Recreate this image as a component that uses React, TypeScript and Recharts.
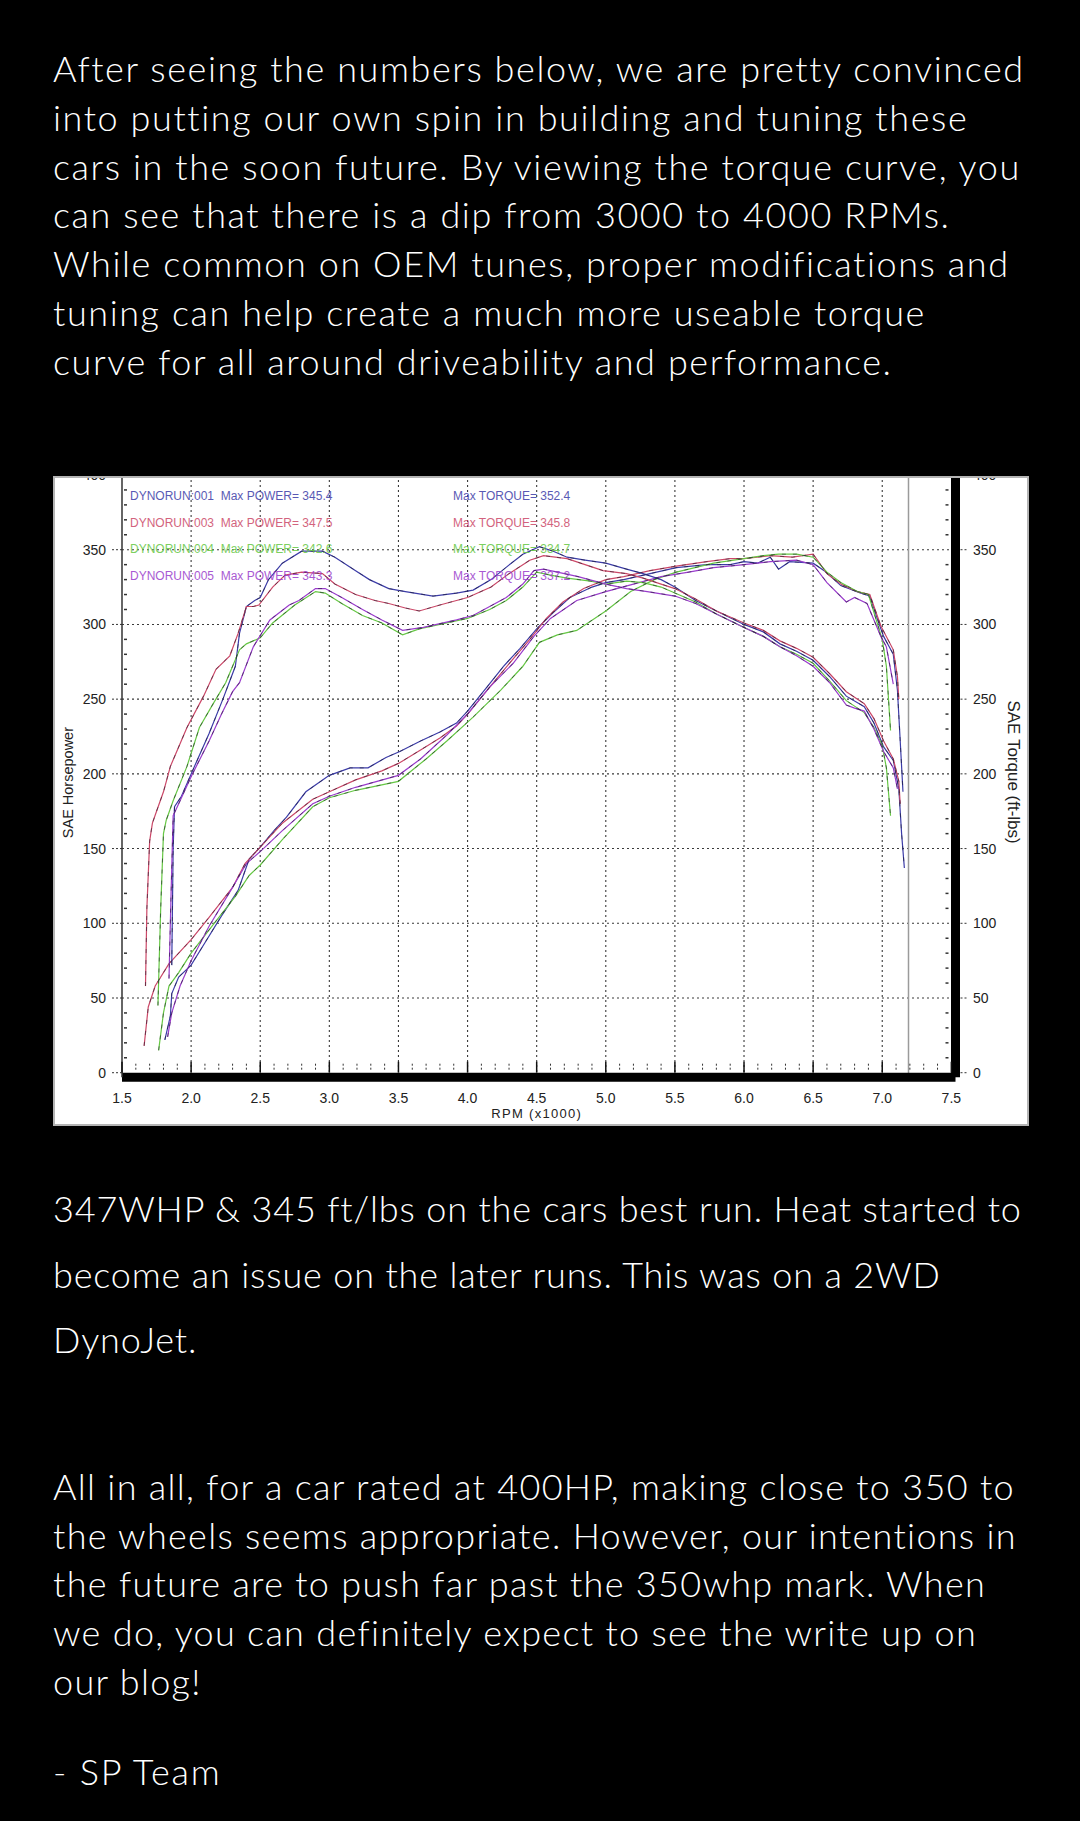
import React from 'react';
import { LineChart, Line, XAxis, YAxis, CartesianGrid, ReferenceLine, Legend } from 'recharts';

// page copy
const INTRO_LINES = [
  'After seeing the numbers below, we are pretty convinced',
  'into putting our own spin in building and tuning these',
  'cars in the soon future. By viewing the torque curve, you',
  'can see that there is a dip from 3000 to 4000 RPMs.',
  'While common on OEM tunes, proper modifications and',
  'tuning can help create a much more useable torque',
  'curve for all around driveability and performance.',
];
const RESULT_LINES = [
  '347WHP & 345 ft/lbs on the cars best run. Heat started to',
  'become an issue on the later runs. This was on a 2WD',
  'DynoJet.',
];
const OUTRO_LINES = [
  'All in all, for a car rated at 400HP, making close to 350 to',
  'the wheels seems appropriate. However, our intentions in',
  'the future are to push far past the 350whp mark. When',
  'we do, you can definitely expect to see the write up on',
  'our blog!',
];
const SIGNATURE = '- SP Team';

// dyno runs
const RUNS = ['DYNORUN:001', 'DYNORUN:003', 'DYNORUN:004', 'DYNORUN:005'];
const MAX_POWER = ['345.4', '347.5', '342.6', '343.3'];
const MAX_TORQUE = ['352.4', '345.8', '334.7', '337.2'];
const RUN_COLORS = ['#3c3ca8', '#cc4868', '#66c844', '#9a3ccc'];

// axes
const X_LABELS = ['1.5', '2.0', '2.5', '3.0', '3.5', '4.0', '4.5', '5.0', '5.5', '6.0', '6.5', '7.0', '7.5'];
const Y_LABELS = [0, 50, 100, 150, 200, 250, 300, 350, 400];
const GRID_X = [2.0, 2.5, 3.0, 3.5, 4.0, 4.5, 5.0, 5.5, 6.0, 6.5, 7.0];
const GRID_Y = [50, 100, 150, 200, 250, 300, 350];
const RPM_LIMIT = 7.19;
const X_TICKS = Array.from({ length: 61 }, (_, i) => Math.round(15 + i) / 10);
const Y_TICKS = Array.from({ length: 41 }, (_, i) => i * 10);

// torque (ft-lbs)
const TQ_001_RPM = [1.86, 1.87, 1.88, 1.93, 2.01, 2.13, 2.23, 2.32, 2.35, 2.4, 2.46, 2.5, 2.56, 2.66, 2.8, 2.95, 3.04, 3.19, 3.29, 3.43, 3.55, 3.75, 3.92, 4.04, 4.17, 4.29, 4.4, 4.52, 4.62, 4.72, 4.85, 5.0, 5.15, 5.27, 5.4, 5.5, 5.65, 5.8, 6.0, 6.14, 6.26, 6.38, 6.5, 6.62, 6.74, 6.87, 6.94, 7.01, 7.08, 7.12, 7.14, 7.16];
const TQ_001 = [72, 150, 178, 185, 202, 227, 250, 272, 294, 312, 316, 318, 330, 341, 349, 349, 345, 336, 330, 324, 322, 319, 321, 323, 330, 339, 347, 352, 349, 345, 343, 341, 337, 334, 330, 325, 316, 309, 300, 295, 287, 282, 276, 265, 252, 245, 234, 218, 209, 190, 160, 137];
const TQ_003_RPM = [1.67, 1.68, 1.7, 1.72, 1.75, 1.8, 1.85, 1.97, 2.09, 2.18, 2.28, 2.34, 2.4, 2.45, 2.49, 2.59, 2.68, 2.8, 2.95, 3.04, 3.19, 3.33, 3.43, 3.55, 3.65, 3.8, 4.0, 4.17, 4.3, 4.45, 4.55, 4.72, 4.85, 4.98, 5.15, 5.27, 5.4, 5.5, 5.65, 5.8, 6.0, 6.14, 6.26, 6.38, 6.5, 6.62, 6.74, 6.87, 6.94, 7.01, 7.08, 7.12, 7.13];
const TQ_003 = [58, 110, 155, 167, 175, 188, 205, 231, 252, 270, 279, 294, 312, 312, 313, 325, 333, 335, 334, 327, 320, 316, 314, 311, 309, 313, 318, 325, 334, 343, 346, 344, 340, 336, 334, 331, 327, 324, 317, 309, 301, 296, 289, 284, 278, 267, 255, 247, 237, 222, 210, 195, 180];
const TQ_004_RPM = [1.76, 1.78, 1.8, 1.82, 1.87, 1.97, 2.06, 2.16, 2.25, 2.35, 2.4, 2.5, 2.59, 2.75, 2.9, 2.97, 3.09, 3.24, 3.38, 3.53, 3.65, 3.8, 4.0, 4.16, 4.28, 4.4, 4.5, 4.6, 4.72, 4.89, 5.0, 5.15, 5.27, 5.4, 5.5, 5.65, 5.8, 6.0, 6.14, 6.26, 6.38, 6.5, 6.62, 6.74, 6.87, 6.94, 7.0, 7.03, 7.06];
const TQ_004 = [45, 110, 160, 169, 182, 205, 231, 247, 261, 283, 287, 291, 301, 313, 322, 321, 314, 306, 301, 293, 297, 300, 304, 310, 316, 325, 335, 333, 331, 329, 327, 329, 328, 325, 321, 315, 307, 298, 292, 285, 280, 274, 262, 249, 241, 231, 219, 204, 172];
const TQ_005_RPM = [1.84, 1.855, 1.87, 1.93, 2.01, 2.13, 2.22, 2.3, 2.35, 2.45, 2.57, 2.71, 2.78, 2.9, 2.97, 3.09, 3.24, 3.38, 3.53, 3.68, 3.92, 4.04, 4.16, 4.28, 4.4, 4.48, 4.55, 4.65, 4.8, 5.0, 5.15, 5.3, 5.5, 5.65, 5.8, 6.0, 6.14, 6.26, 6.38, 6.5, 6.62, 6.74, 6.8, 6.87, 6.94, 7.01, 7.08, 7.11];
const TQ_005 = [63, 120, 172, 184, 200, 222, 240, 255, 261, 285, 303, 313, 316, 324, 324, 318, 310, 303, 296, 298, 303, 306, 312, 318, 327, 336, 337, 335, 332, 327, 324, 322, 319, 314, 307, 298, 292, 285, 279, 272, 261, 246, 244, 242, 230, 215, 204, 190];

// power (hp)
const HP_001_RPM = [1.81, 1.85, 1.86, 1.91, 2.0, 2.1, 2.22, 2.34, 2.42, 2.5, 2.6, 2.69, 2.83, 3.0, 3.15, 3.28, 3.41, 3.51, 3.66, 3.8, 3.92, 4.0, 4.14, 4.26, 4.38, 4.5, 4.62, 4.74, 4.9, 5.0, 5.13, 5.32, 5.51, 5.73, 5.9, 6.0, 6.1, 6.19, 6.25, 6.33, 6.5, 6.58, 6.7, 6.84, 6.91, 6.96, 7.01, 7.08, 7.11, 7.13, 7.15];
const HP_001 = [22, 38, 53, 64, 72, 87, 105, 122, 143, 151, 162, 171, 188, 199, 204, 204, 211, 215, 222, 228, 234, 242, 258, 272, 284, 297, 308, 318, 325, 328, 330, 334, 338, 340, 340, 342, 341, 345, 337, 342, 341, 336, 326, 321, 319, 305, 292, 280, 256, 222, 188];
const HP_003_RPM = [1.66, 1.69, 1.74, 1.84, 2.0, 2.13, 2.3, 2.39, 2.5, 2.66, 2.88, 3.0, 3.19, 3.38, 3.5, 3.66, 3.8, 3.92, 4.0, 4.16, 4.33, 4.45, 4.57, 4.69, 4.84, 5.0, 5.13, 5.32, 5.51, 5.73, 5.9, 6.0, 6.19, 6.35, 6.5, 6.6, 6.7, 6.82, 6.91, 6.99, 7.08, 7.11, 7.12];
const HP_003 = [18, 44, 58, 73, 89, 104, 124, 140, 151, 167, 183, 188, 196, 202, 207, 216, 224, 232, 240, 258, 277, 290, 304, 315, 324, 330, 332, 336, 339, 342, 344, 344, 346, 345, 347, 334, 327, 322, 320, 299, 283, 265, 250];
const HP_004_RPM = [1.765, 1.8, 1.84, 1.91, 2.0, 2.15, 2.32, 2.42, 2.5, 2.66, 2.88, 3.0, 3.19, 3.5, 3.7, 3.85, 4.04, 4.24, 4.4, 4.52, 4.65, 4.79, 5.0, 5.18, 5.35, 5.51, 5.78, 6.0, 6.14, 6.25, 6.38, 6.5, 6.6, 6.7, 6.82, 6.9, 7.0, 7.03, 7.06];
const HP_004 = [15, 40, 58, 67, 80, 98, 118, 132, 139, 156, 178, 184, 189, 195, 210, 222, 238, 256, 272, 288, 293, 296, 309, 322, 330, 335, 341, 344, 346, 347, 347, 345, 335, 328, 322, 320, 290, 272, 229];
const HP_005_RPM = [1.83, 1.86, 1.92, 2.0, 2.13, 2.3, 2.4, 2.5, 2.66, 2.88, 3.0, 3.19, 3.5, 3.66, 3.85, 4.0, 4.16, 4.33, 4.48, 4.6, 4.79, 5.0, 5.2, 5.4, 5.6, 5.78, 6.0, 6.19, 6.38, 6.5, 6.6, 6.74, 6.8, 6.89, 6.99, 7.03, 7.08];
const HP_005 = [24, 40, 58, 75, 98, 124, 140, 148, 162, 180, 185, 191, 199, 210, 226, 240, 258, 274, 292, 304, 316, 322, 327, 332, 335, 338, 340, 342, 343, 340, 328, 315, 318, 314, 292, 285, 260];

const toPoints = (rpm: number[], values: number[]) => rpm.map((r, i) => ({ rpm: r, value: values[i] }));

const SERIES = [
  { id: 'hp001', axis: 'hp', color: RUN_COLORS[0], data: toPoints(HP_001_RPM, HP_001) },
  { id: 'hp003', axis: 'hp', color: RUN_COLORS[1], data: toPoints(HP_003_RPM, HP_003) },
  { id: 'hp004', axis: 'hp', color: RUN_COLORS[2], data: toPoints(HP_004_RPM, HP_004) },
  { id: 'hp005', axis: 'hp', color: RUN_COLORS[3], data: toPoints(HP_005_RPM, HP_005) },
  { id: 'tq001', axis: 'tq', color: RUN_COLORS[0], data: toPoints(TQ_001_RPM, TQ_001) },
  { id: 'tq003', axis: 'tq', color: RUN_COLORS[1], data: toPoints(TQ_003_RPM, TQ_003) },
  { id: 'tq004', axis: 'tq', color: RUN_COLORS[2], data: toPoints(TQ_004_RPM, TQ_004) },
  { id: 'tq005', axis: 'tq', color: RUN_COLORS[3], data: toPoints(TQ_005_RPM, TQ_005) },
];

const TICK_FONT = '"Liberation Sans", Arial, sans-serif';
const BODY_FONT = 'Lato, "Open Sans", sans-serif';
const INK = '#222';

// bottom axis: line is 9px thick, its top edge sits on 0
const BottomTick = ({ x, y, payload }: any) => {
  const v = payload.value;
  const y0 = y - 4.5;
  const major = Math.abs(v * 2 - Math.round(v * 2)) < 1e-6;
  if (!major) {
    return <line x1={x} x2={x} y1={y0 - 9} y2={y0 - 1} stroke="#333" strokeDasharray="2 2" />;
  }
  const label = X_LABELS[Math.round((v - 1.5) * 2)];
  return (
    <g>
      <line x1={x} x2={x} y1={y0 - 11} y2={y0} stroke="#111" strokeWidth={1.5} />
      <text x={x} y={y0 + 30.3} textAnchor="middle" fontSize={14} fontFamily={TICK_FONT} fill={INK}>
        {label}
      </text>
    </g>
  );
};

const LeftTick = ({ x, y, payload }: any) => {
  const v = payload.value;
  if (Y_LABELS.includes(v)) {
    return (
      <g>
        <line x1={x - 10} x2={x} y1={y} y2={y} stroke="#333" strokeDasharray="2 2" />
        <text x={x - 16} y={y} dy={5} textAnchor="end" fontSize={14} fontFamily={TICK_FONT} fill={INK}>
          {v}
        </text>
      </g>
    );
  }
  return <line x1={x + 2} x2={x + 5} y1={y} y2={y} stroke="#333" strokeWidth={1.5} />;
};

const RightTick = ({ x, y, payload }: any) => {
  const v = payload.value;
  if (Y_LABELS.includes(v)) {
    return (
      <g>
        <line x1={x + 5} x2={x + 13} y1={y} y2={y} stroke="#333" strokeDasharray="2 2" />
        <text x={x + 17.5} y={y} dy={5} textAnchor="start" fontSize={14} fontFamily={TICK_FONT} fill={INK}>
          {v}
        </text>
      </g>
    );
  }
  return <line x1={x - 10} x2={x - 7} y1={y} y2={y} stroke="#333" strokeWidth={1.5} />;
};

const RpmTitle = ({ viewBox }: any) => (
  <text
    x={viewBox.x + viewBox.width / 2 - 2}
    y={viewBox.y + 40.8}
    textAnchor="middle"
    fontSize={13}
    letterSpacing={1.3}
    fontFamily={TICK_FONT}
    fill={INK}
  >
    RPM (x1000)
  </text>
);

const HpTitle = ({ viewBox }: any) => {
  const cx = viewBox.x + 15;
  const cy = viewBox.y + viewBox.height / 2 + 6.5;
  return (
    <text x={cx} y={cy} transform={`rotate(-90 ${cx} ${cy})`} textAnchor="middle" dominantBaseline="central" fontSize={14.5} fontFamily={TICK_FONT} fill={INK}>
      SAE Horsepower
    </text>
  );
};

const TqTitle = ({ viewBox }: any) => {
  const cx = viewBox.x + 57.5;
  const cy = viewBox.y + viewBox.height / 2 - 4;
  return (
    <text x={cx} y={cy} transform={`rotate(90 ${cx} ${cy})`} textAnchor="middle" dominantBaseline="central" fontSize={17} fontFamily={TICK_FONT} fill={INK}>
      SAE Torque (ft-lbs)
    </text>
  );
};

const RunLegend = () => (
  <div style={{ position: 'relative', width: 520, fontFamily: TICK_FONT, fontSize: 12, whiteSpace: 'pre' }}>
    {RUNS.map((run, i) => (
      <div key={run} style={{ position: 'relative', height: 26.7, lineHeight: '26.7px', color: RUN_COLORS[i], opacity: 0.85 }}>
        <span style={{ position: 'absolute', left: 0 }}>{`${run}  Max POWER= ${MAX_POWER[i]}`}</span>
        <span style={{ position: 'absolute', left: 323 }}>{`Max TORQUE= ${MAX_TORQUE[i]}`}</span>
      </div>
    ))}
  </div>
);

const DynoChart = () => (
  <div style={{ position: 'absolute', left: 53, top: 476, width: 976, height: 650, background: '#fff', overflow: 'hidden' }}>
    <div style={{ position: 'absolute', left: 0, top: -10 }}>
      <LineChart width={976} height={660} margin={{ top: 9, right: 0, bottom: 0, left: 0 }}>
        <CartesianGrid
          yAxisId="hp"
          horizontalValues={GRID_Y}
          verticalValues={GRID_X}
          stroke="#3a3a3a"
          strokeDasharray="2 3"
          strokeWidth={1.1}
        />
        <XAxis
          dataKey="rpm"
          type="number"
          domain={[1.5, 7.53]}
          ticks={X_TICKS}
          interval={0}
          allowDataOverflow
          height={48.8}
          tickSize={0}
          tickMargin={0}
          tickLine={false}
          axisLine={{ stroke: '#000', strokeWidth: 9 }}
          tick={BottomTick}
          label={RpmTitle}
        />
        <YAxis
          yAxisId="hp"
          type="number"
          domain={[-3, 400]}
          ticks={Y_TICKS}
          interval={0}
          allowDataOverflow
          width={69}
          tickSize={0}
          tickMargin={0}
          tickLine={false}
          axisLine={{ stroke: '#333', strokeWidth: 1.5 }}
          tick={LeftTick}
          label={HpTitle}
        />
        <YAxis
          yAxisId="tq"
          orientation="right"
          type="number"
          domain={[-3, 400]}
          ticks={Y_TICKS}
          interval={0}
          allowDataOverflow
          width={73.5}
          tickSize={0}
          tickMargin={0}
          tickLine={false}
          axisLine={{ stroke: '#000', strokeWidth: 9 }}
          tick={RightTick}
          label={TqTitle}
        />
        <ReferenceLine x={RPM_LIMIT} yAxisId="hp" stroke="#9b9b9b" strokeWidth={1.5} />
        {SERIES.map((s) => (
          <Line
            key={s.id}
            name={s.id}
            data={s.data}
            dataKey="value"
            yAxisId={s.axis}
            type="linear"
            stroke={s.color}
            strokeWidth={1.2}
            dot={false}
            activeDot={false}
            isAnimationActive={false}
          />
        ))}
        {/* the dyno printout traces carry dark dashes over the run colour */}
        {SERIES.map((s) => (
          <Line
            key={`${s.id}-dash`}
            name={`${s.id}-dash`}
            data={s.data}
            dataKey="value"
            yAxisId={s.axis}
            type="linear"
            stroke="#1a1a2a"
            strokeOpacity={0.55}
            strokeWidth={1}
            strokeDasharray="4 7"
            dot={false}
            activeDot={false}
            legendType="none"
            isAnimationActive={false}
          />
        ))}
        <Legend
          layout="vertical"
          align="center"
          verticalAlign="middle"
          wrapperStyle={{ top: 17, left: 77, width: 520 }}
          content={() => <RunLegend />}
        />
      </LineChart>
    </div>
    <div style={{ position: 'absolute', inset: 0, border: '2px solid #b4b4b4', pointerEvents: 'none' }} />
  </div>
);

const lineBlock = (lines: string[], top: number, lineHeight: number, spacing: number) => (
  <div
    style={{
      position: 'absolute',
      left: 53,
      top,
      color: '#fff',
      fontFamily: BODY_FONT,
      fontWeight: 300,
      fontSize: 36,
      letterSpacing: spacing,
      whiteSpace: 'pre',
      lineHeight: `${lineHeight}px`,
    }}
  >
    {lines.map((l) => (
      <div key={l}>{l}</div>
    ))}
  </div>
);

export default function App() {
  return (
    <div style={{ position: 'absolute', left: 0, top: 0, width: 1080, height: 1821, background: '#000', overflow: 'hidden' }}>
      {lineBlock(INTRO_LINES, 44.1, 48.8, 1.58)}
      <DynoChart />
      {lineBlock(RESULT_LINES, 1176, 65.6, 0.84)}
      {lineBlock(OUTRO_LINES, 1461.9, 48.8, 1.3)}
      {lineBlock([SIGNATURE], 1746.6, 48.8, 1.8)}
    </div>
  );
}
